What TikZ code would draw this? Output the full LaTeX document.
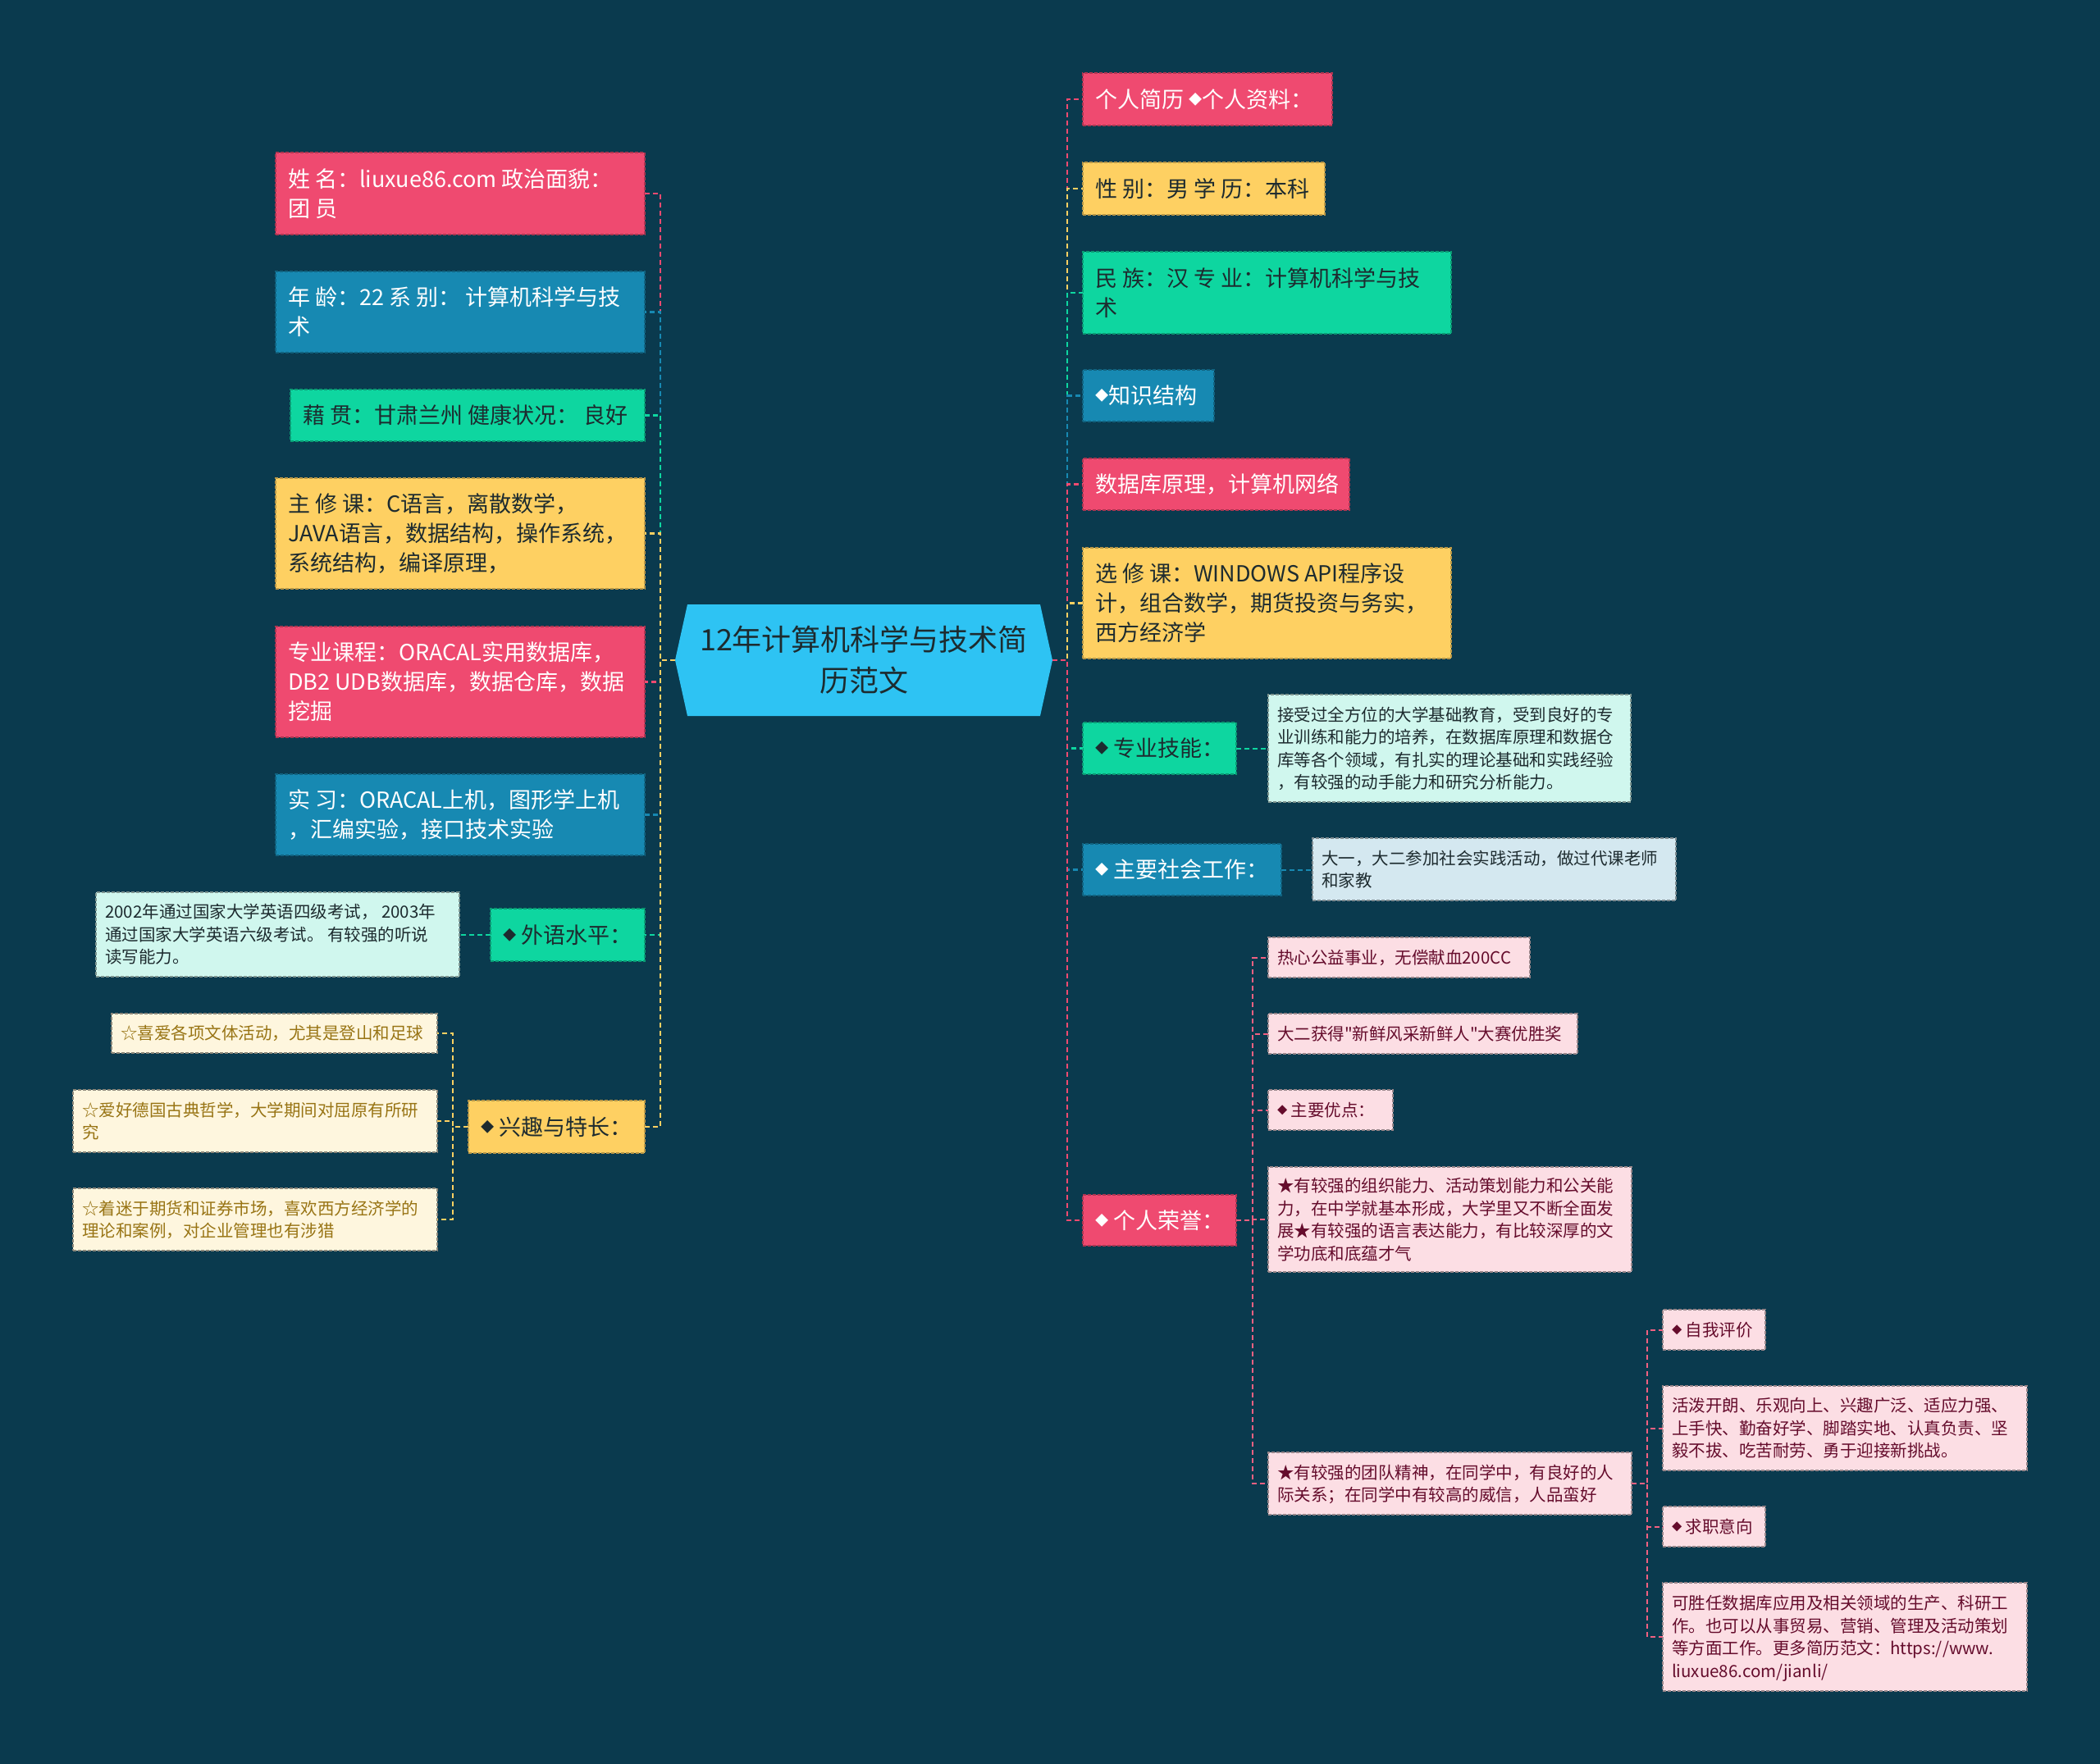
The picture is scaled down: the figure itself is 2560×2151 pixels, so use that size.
\documentclass[tikz,border=0pt]{standalone}
\usepackage{fontspec}
\usepackage{graphicx}
\setmainfont{Noto Sans CJK SC}[Ligatures=TeXOff]
\definecolor{bg}{HTML}{0A3A4E}
\definecolor{cpink}{HTML}{EF4A70}
\definecolor{cblue}{HTML}{1789B2}
\definecolor{cgreen}{HTML}{0ED6A0}
\definecolor{cyellow}{HTML}{FED062}
\definecolor{ctr}{HTML}{2EC3F3}
\definecolor{lcyan}{HTML}{D0F7EE}
\definecolor{lcream}{HTML}{FEF6DE}
\definecolor{lblue}{HTML}{D4E8F0}
\definecolor{lpink}{HTML}{FCDEE4}
\definecolor{tdark}{HTML}{1D2B2F}
\definecolor{tbrown}{HTML}{987414}
\definecolor{tmaroon}{HTML}{650C2C}
\pgfdeclarelayer{back}
\pgfsetlayers{back,main}
\newcommand\dm{\raisebox{0.15em}{\scalebox{0.6}{◆}}}
\newcommand\tb[2]{\makebox[#1pt][l]{\raisebox{-0.11em}[\height][\depth]{\begin{tabular}{@{}l@{}}#2\end{tabular}}}}
\newcommand\Lg{\fontsize{27pt}{36pt}\selectfont}
\newcommand\Sm{\fontsize{20.5pt}{27.5pt}\selectfont}
\newcommand\Ct{\fontsize{36pt}{50pt}\selectfont}
\tikzset{
  boxA/.style={rectangle, anchor=north west, inner xsep=15pt, inner ysep=0pt, outer sep=0pt,
    line width=1.2pt, dash pattern=on 4pt off 2pt, font=\Lg},
  boxB/.style={rectangle, anchor=north west, inner xsep=11pt, inner ysep=0pt, outer sep=0pt,
    line width=1.2pt, dash pattern=on 4pt off 2pt, font=\Sm},
  pinkbox/.style={boxA, fill=cpink, draw=cpink!72!black, text=white},
  bluebox/.style={boxA, fill=cblue, draw=cblue!72!black, text=white},
  greenbox/.style={boxA, fill=cgreen, draw=cgreen!72!black, text=tdark},
  yellowbox/.style={boxA, fill=cyellow, draw=cyellow!72!black, text=tdark},
  cyanbox/.style={boxB, fill=lcyan, draw=lcyan!60!black, text=tdark},
  creambox/.style={boxB, fill=lcream, draw=lcream!55!black, text=tbrown},
  lbluebox/.style={boxB, fill=lblue, draw=lblue!60!black, text=tdark},
  lpinkbox/.style={boxB, fill=lpink, draw=lpink!60!black, text=tmaroon},
  con/.style={line width=2.5pt, dash pattern=on 6pt off 4pt},
  subcon/.style={line width=2pt, dash pattern=on 6pt off 4pt},
}
\begin{document}
\begin{tikzpicture}[x=1pt,y=-1pt]
\useasboundingbox (0,0) rectangle (2560,2151);
\begin{pgfonlayer}{back}
\fill[bg] (0,0) rectangle (2560,2151);
\end{pgfonlayer}

% centre
\node[minimum width=460pt, minimum height=136pt, inner sep=0pt, outer sep=0pt,
      align=center, font=\Ct, text=tdark] (c) at (1053,805)
      {12年计算机科学与技术简\\历范文};
\begin{pgfonlayer}{back}
\fill[ctr] (c.west) -- ([xshift=15pt]c.north west) -- ([xshift=-15pt]c.north east)
  -- (c.east) -- ([xshift=-15pt]c.south east) -- ([xshift=15pt]c.south west) -- cycle;
\end{pgfonlayer}

% left branch
\node[pinkbox, minimum height=100pt] (n1) at (336,186) {\tb{420}{姓 名：liuxue86.com 政治面貌：\\团 员}};
\node[bluebox, minimum height=99pt] (n2) at (336,331) {\tb{420}{年 龄：22 系 别： 计算机科学与技\\术}};
\node[greenbox, minimum height=63pt] (n3) at (354,475) {\tb{402}{藉 贯：甘肃兰州 健康状况： 良好}};
\node[yellowbox, minimum height=135pt] (n4) at (336,583) {\tb{420}{主 修 课：C语言，离散数学，\\JAVA语言，数据结构，操作系统，\\系统结构，编译原理，}};
\node[pinkbox, minimum height=135pt] (n5) at (336,764) {\tb{420}{专业课程：ORACAL实用数据库，\\DB2 UDB数据库，数据仓库，数据\\挖掘}};
\node[bluebox, minimum height=99pt] (n6) at (336,944) {\tb{420}{实 习：ORACAL上机，图形学上机\\，汇编实验，接口技术实验}};
\node[greenbox, minimum height=64pt] (n7) at (598,1108) {\tb{158}{\dm\ 外语水平：}};
\node[cyanbox, minimum height=103pt] (n7a) at (117,1088) {\tb{421}{2002年通过国家大学英语四级考试， 2003年\\通过国家大学英语六级考试。 有较强的听说\\读写能力。}};
\node[yellowbox, minimum height=64pt] (n8) at (571,1342) {\tb{185}{\dm\ 兴趣与特长：}};
\node[creambox, minimum height=48pt] (n8a) at (136,1236) {\tb{375}{☆喜爱各项文体活动，尤其是登山和足球}};
\node[creambox, minimum height=76pt] (n8b) at (89,1329) {\tb{422}{☆爱好德国古典哲学，大学期间对屈原有所研\\究}};
\node[creambox, minimum height=76pt] (n8c) at (89,1449) {\tb{422}{☆着迷于期货和证券市场，喜欢西方经济学的\\理论和案例，对企业管理也有涉猎}};

% right branch
\node[pinkbox, minimum height=64pt] (m1) at (1320,89) {\tb{274}{个人简历 \dm 个人资料：}};
\node[yellowbox, minimum height=64pt] (m2) at (1320,198) {\tb{265}{性 别：男 学 历：本科}};
\node[greenbox, minimum height=100pt] (m3) at (1320,307) {\tb{419}{民 族：汉 专 业：计算机科学与技\\术}};
\node[bluebox, minimum height=63pt] (m4) at (1320,451) {\tb{130}{\dm 知识结构}};
\node[pinkbox, minimum height=63pt] (m5) at (1320,559) {\tb{295}{数据库原理，计算机网络}};
\node[yellowbox, minimum height=135pt] (m6) at (1320,668) {\tb{419}{选 修 课：WINDOWS API程序设\\计，组合数学，期货投资与务实，\\西方经济学}};
\node[greenbox, minimum height=63pt] (m7) at (1320,881) {\tb{157}{\dm\ 专业技能：}};
\node[cyanbox, minimum height=131pt] (m7a) at (1546,847) {\tb{420}{接受过全方位的大学基础教育，受到良好的专\\业训练和能力的培养，在数据库原理和数据仓\\库等各个领域，有扎实的理论基础和实践经验\\，有较强的动手能力和研究分析能力。}};
\node[bluebox, minimum height=63pt] (m8) at (1320,1029) {\tb{212}{\dm\ 主要社会工作：}};
\node[lbluebox, minimum height=76pt] (m8a) at (1600,1022) {\tb{421}{大一，大二参加社会实践活动，做过代课老师\\和家教}};
\node[pinkbox, minimum height=62pt] (m9) at (1320,1457) {\tb{157}{\dm\ 个人荣誉：}};
\node[lpinkbox, minimum height=49pt] (m9a) at (1546,1143) {\tb{297}{热心公益事业，无偿献血200CC}};
\node[lpinkbox, minimum height=49pt] (m9b) at (1546,1236) {\tb{355}{大二获得"新鲜风采新鲜人"大赛优胜奖}};
\node[lpinkbox, minimum height=49pt] (m9c) at (1546,1329) {\tb{130}{\dm\ 主要优点：}};
\node[lpinkbox, minimum height=128pt] (m9d) at (1546,1423) {\tb{421}{★有较强的组织能力、活动策划能力和公关能\\力，在中学就基本形成，大学里又不断全面发\\展★有较强的语言表达能力，有比较深厚的文\\学功底和底蕴才气}};
\node[lpinkbox, minimum height=76pt] (m9e) at (1546,1771) {\tb{421}{★有较强的团队精神，在同学中，有良好的人\\际关系；在同学中有较高的威信，人品蛮好}};
\node[lpinkbox, minimum height=49pt] (m9e1) at (2027,1597) {\tb{103}{\dm\ 自我评价}};
\node[lpinkbox, minimum height=103pt] (m9e2) at (2027,1690) {\tb{422}{活泼开朗、乐观向上、兴趣广泛、适应力强、\\上手快、勤奋好学、脚踏实地、认真负责、坚\\毅不拔、吃苦耐劳、勇于迎接新挑战。}};
\node[lpinkbox, minimum height=49pt] (m9e3) at (2027,1837) {\tb{103}{\dm\ 求职意向}};
\node[lpinkbox, minimum height=132pt] (m9e4) at (2027,1930) {\tb{422}{可胜任数据库应用及相关领域的生产、科研工\\作。也可以从事贸易、营销、管理及活动策划\\等方面工作。更多简历范文：https://www.\\liuxue86.com/jianli/}};

% connectors from centre
\foreach \n/\col in {n1/cpink,n2/cblue,n3/cgreen,n4/cyellow,n5/cpink,n6/cblue,n7/cgreen,n8/cyellow}
  \draw[con,\col] (c.west) -- ++(-18,0) |- (\n.east);
\foreach \n/\col in {m1/cpink,m2/cyellow,m3/cgreen,m4/cblue,m5/cpink,m6/cyellow,m7/cgreen,m8/cblue,m9/cpink}
  \draw[con,\col] (c.east) -- ++(18,0) |- (\n.west);

% sub connectors
\draw[subcon,cgreen] (n7.west) -- (n7.west -| n7a.east);
\foreach \k in {n8a,n8b,n8c}
  \draw[subcon,cyellow] (n8.west) -- ++(-19,0) |- (\k.east);
\draw[subcon,cgreen] (m7.east) -- (m7.east -| m7a.west);
\draw[subcon,cblue] (m8.east) -- (m8.east -| m8a.west);
\foreach \k in {m9a,m9b,m9c,m9d,m9e}
  \draw[subcon,cpink!85!lpink] (m9.east) -- ++(20,0) |- (\k.west);
\foreach \k in {m9e1,m9e2,m9e3,m9e4}
  \draw[subcon,cpink!85!lpink] (m9e.east) -- ++(19,0) |- (\k.west);
\end{tikzpicture}
\end{document}
